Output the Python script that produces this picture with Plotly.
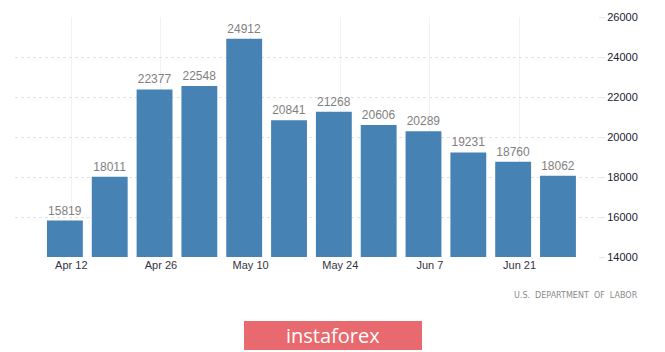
import plotly.graph_objects as go

# Data
week_ending = ["2020-04-11", "2020-04-18", "2020-04-25", "2020-05-02", "2020-05-09", "2020-05-16",
               "2020-05-23", "2020-05-30", "2020-06-06", "2020-06-13", "2020-06-20", "2020-06-27"]
claims = [15819, 18011, 22377, 22548, 24912, 20841, 21268, 20606, 20289, 19231, 18760, 18062]
x_tick_vals = ["2020-04-12", "2020-04-26", "2020-05-10", "2020-05-24", "2020-06-07", "2020-06-21"]
x_tick_text = ["Apr 12", "Apr 26", "May 10", "May 24", "Jun 7", "Jun 21"]
y_tick_vals = [14000, 16000, 18000, 20000, 22000, 24000, 26000]
y_tick_text = ["14000", "16000", "18000", "20000", "22000", "24000", "26000"]
source_text = "U.S.  DEPARTMENT  OF  LABOR"
brand_text = "instaforex"

FONT = "Liberation Sans Narrow, Liberation Sans, Arial, sans-serif"

W, H = 665, 352
ML, MR, MT, MB = 15, 67, 17, 95
pw = W - ML - MR
ph = H - MT - MB


def px(x):
    return (x - ML) / pw


def py(y):
    return (H - MB - y) / ph


fig = go.Figure()
fig.add_trace(go.Bar(
    x=week_ending, y=claims,
    marker=dict(color="#4682B4", line=dict(width=0)),
    text=[str(v) for v in claims],
    textposition="outside",
    textfont=dict(family=FONT, size=12, color="#7f7f7f"),
    cliponaxis=False,
))

fig.update_layout(
    width=W, height=H,
    margin=dict(l=ML, r=MR, t=MT, b=MB),
    paper_bgcolor="white", plot_bgcolor="white",
    bargap=0.2,
    showlegend=False,
    xaxis=dict(
        type="date",
        range=["2020-04-03 05:00", "2020-07-03 06:00"],
        tickvals=x_tick_vals, ticktext=x_tick_text,
        showgrid=True, gridcolor="#f2f2f2", gridwidth=1,
        showline=False, zeroline=False, ticks="",
        tickfont=dict(family=FONT, size=11, color="#333344"),
    ),
    yaxis=dict(
        range=[14000, 26000], side="right",
        tickvals=y_tick_vals, ticktext=y_tick_text,
        showgrid=True, gridcolor="#e2e2e2", griddash="dot", gridwidth=1,
        zeroline=False, showline=False,
        ticks="outside", ticklen=6, tickcolor="#e6e6e6",
        tickfont=dict(family=FONT, size=11, color="#222233"),
    ),
)

fig.add_annotation(
    x=px(640), y=py(295), xref="paper", yref="paper", text=source_text, showarrow=False,
    font=dict(family="DejaVu Sans, sans-serif", size=8, color="#8a8a8a"),
    xanchor="right", yanchor="middle",
)

fig.add_shape(type="rect", xref="paper", yref="paper",
              x0=px(244), x1=px(422), y0=py(350), y1=py(321),
              fillcolor="#E8696E", line=dict(width=0), layer="above")
fig.add_annotation(
    x=px(333), y=py(335), xref="paper", yref="paper", text=brand_text, showarrow=False,
    font=dict(family="Open Sans, sans-serif", size=20, color="white"),
    xanchor="center", yanchor="middle",
)

fig.write_html("out.html")
